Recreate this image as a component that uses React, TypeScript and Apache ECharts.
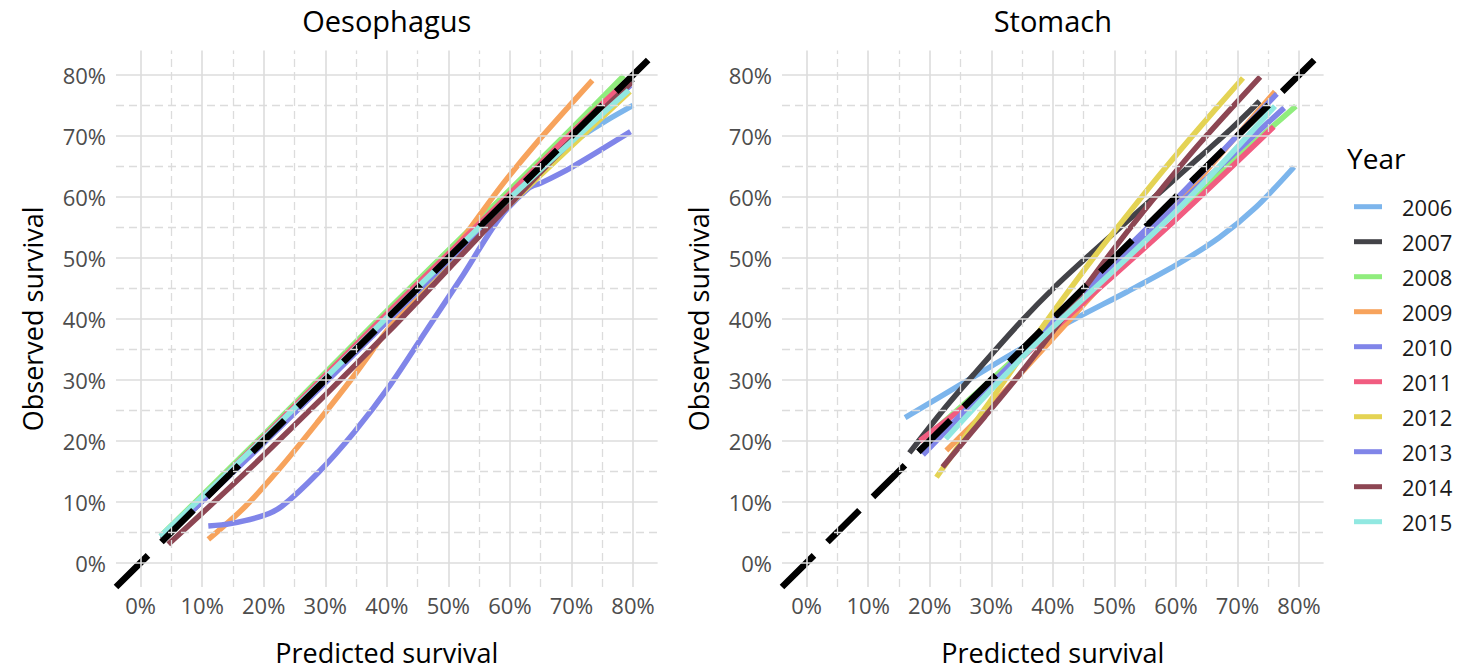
import React, { useEffect, useRef } from "react";
import * as echarts from "echarts";

const FONT = "Open Sans";

const years = ["2006", "2007", "2008", "2009", "2010", "2011", "2012", "2013", "2014", "2015"];
const colors = ["#7cb5ec", "#434348", "#90ed7d", "#f7a35c", "#8085e9", "#f15c80", "#e4d354", "#8085e8", "#8d4653", "#91e8e1"];
const panelTitles = ["Oesophagus", "Stomach"];
const tickValues = [0, 10, 20, 30, 40, 50, 60, 70, 80];
const minorValues = [5, 15, 25, 35, 45, 55, 65, 75];
const axisMin = -4;
const axisMax = 84;
const refLine = [[-4, -4], [84, 84]];

// Oesophagus: [predicted %, observed %]
const oes2006 = [[3.5, 4.0], [20, 20.2], [40, 40], [60, 60], [65, 64.6], [70, 68.8], [75, 72.1], [80, 75]];
const oes2007 = [[3.5, 3.8], [20, 19.8], [40, 39.7], [60, 59.6], [80, 79.3]];
const oes2008 = [[3.3, 4.4], [20, 21], [40, 41.3], [55, 56.2], [70, 71.2], [78.5, 79.9]];
const oes2009 = [[11, 3.8], [17, 9.2], [22.9, 15.8], [28.8, 23.1], [34.7, 30.7], [40.6, 38.8], [46.5, 45.7], [52.4, 53.3], [58.3, 61.4], [64.2, 68.7], [73.4, 79.1]];
const oes2010 = [[11, 6.0], [14.6, 6.4], [19.9, 7.7], [22.9, 9.2], [28.8, 14.7], [34.7, 21.4], [40.6, 29.2], [46.5, 38.2], [52.4, 47.2], [58.3, 56.5], [63, 61.4], [65.1, 62.3], [70.1, 64.9], [79.6, 70.7]];
const oes2011 = [[3.5, 4.2], [20, 20.6], [40, 40.8], [55, 55.6], [70, 70.5], [79, 79]];
const oes2012 = [[3.5, 4.0], [20, 20.2], [40, 39.6], [55, 54], [65, 63.6], [79.5, 77.3]];
const oes2013 = [[3.5, 3.9], [20, 19.6], [40, 39.5], [60, 59.5], [79.6, 78.3]];
const oes2014 = [[4.5, 3.0], [20, 17.6], [40, 37.6], [55, 53.5], [70, 69.3], [79.8, 78.8]];
const oes2015 = [[3.2, 4.3], [20, 20.4], [40, 40.2], [60, 59.8], [79.3, 77.5]];

// Stomach: [predicted %, observed %]
const sto2006 = [[16, 23.8], [26, 29.8], [35, 35.2], [44, 40.2], [52, 44.4], [60, 48.8], [67, 53.3], [73, 58.3], [79.2, 64.9]];
const sto2007 = [[16.7, 18], [22, 24.8], [27.1, 30.8], [34.7, 39.4], [40.5, 45.4], [46.3, 50.8], [52.1, 56], [57.9, 61.2], [63.7, 66.4], [68.6, 70.8], [73.6, 75.7]];
const sto2008 = [[19.5, 20.6], [30, 30], [45, 43.8], [60, 57.6], [79.5, 74.9]];
const sto2009 = [[22.7, 18.4], [30, 25.8], [40, 36.8], [50, 47.8], [60, 58.6], [76.1, 77.3]];
const sto2010 = [[18.9, 17.7], [30, 29.3], [45, 44.6], [60, 59.6], [76.4, 76.9]];
const sto2011 = [[18.4, 20], [30, 29.2], [45, 42.7], [60, 56.3], [75.9, 71.5]];
const sto2012 = [[21.1, 14], [29, 25.3], [38.2, 38.5], [46.3, 49.6], [52.4, 57.4], [58, 64.4], [63.7, 71.2], [70.9, 79.5]];
const sto2013 = [[19.5, 18.6], [30, 29.2], [45, 43.8], [60, 58.3], [77.6, 74.6]];
const sto2014 = [[22.1, 15.7], [28.9, 23.9], [34.7, 31], [40.5, 38.6], [46.3, 46.6], [52.1, 54.3], [57.9, 61.6], [63.7, 68.6], [73.7, 79.7]];
const sto2015 = [[22.6, 20.3], [32, 30.5], [40, 38.6], [60, 57.6], [76.1, 74.9]];

const panelData = [
  [oes2006, oes2007, oes2008, oes2009, oes2010, oes2011, oes2012, oes2013, oes2014, oes2015],
  [sto2006, sto2007, sto2008, sto2009, sto2010, sto2011, sto2012, sto2013, sto2014, sto2015],
];

const gridLefts = [116, 782];
const gridTop = 50.6;
const gridW = 541.6;
const gridH = 542.4;

export default function App() {
  const ref = useRef<HTMLDivElement>(null);
  useEffect(() => {
    if (!ref.current) return;
    const chart = echarts.init(ref.current, undefined, { renderer: "svg" });
    const major = { color: "#dcdcdc", width: 1.6, type: "solid" as const };
    const minor = { color: "#dcdcdc", width: 1.3, type: [8, 5] as any };

    const series: any[] = [];
    [0, 1].forEach((i) => {
      series.push({
        type: "line",
        name: "grid" + i,
        xAxisIndex: i,
        yAxisIndex: i,
        data: [[0, 0]],
        showSymbol: false,
        silent: true,
        lineStyle: { opacity: 0 },
        z: 1,
        markLine: {
          silent: true,
          symbol: ["none", "none"],
          label: { show: false },
          emphasis: { disabled: true },
          data: [
            ...minorValues.map((v) => ({ xAxis: v, lineStyle: minor })),
            ...minorValues.map((v) => ({ yAxis: v, lineStyle: minor })),
            ...tickValues.map((v) => ({ xAxis: v, lineStyle: major })),
            ...tickValues.map((v) => ({ yAxis: v, lineStyle: major })),
          ],
        },
      });
      panelData[i].forEach((d, j) => {
        series.push({
          type: "line",
          name: years[j],
          xAxisIndex: i,
          yAxisIndex: i,
          data: d,
          showSymbol: false,
          smooth: 0.3,
          silent: true,
          emphasis: { disabled: true },
          itemStyle: { color: colors[j] },
          lineStyle: { color: colors[j], width: 5.5, cap: "butt", join: "round" },
          z: 2,
        });
      });
      series.push({
        type: "line",
        name: "reference",
        xAxisIndex: i,
        yAxisIndex: i,
        data: refLine,
        showSymbol: false,
        silent: true,
        emphasis: { disabled: true },
        lineStyle: { color: "#000", width: 6.5, type: [45, 19], cap: "butt" },
        z: 3,
      });
    });

    const labelStyle = { color: "#4d4d4d", fontSize: 22, fontFamily: FONT };
    const nameStyle = { color: "#000", fontSize: 27, fontFamily: FONT };

    chart.setOption({
      animation: false,
      backgroundColor: "#fff",
      grid: gridLefts.map((l) => ({ left: l, top: gridTop, width: gridW, height: gridH, containLabel: false })),
      xAxis: [0, 1].map((i) => ({
        type: "value",
        gridIndex: i,
        min: axisMin,
        max: axisMax,
        axisLine: { show: false },
        axisTick: { show: false },
        splitLine: { show: false },
        axisLabel: { ...labelStyle, customValues: tickValues, formatter: (v: number) => `${v}%`, margin: 7 },
        name: "Predicted survival",
        nameLocation: "middle",
        nameGap: 52,
        nameTextStyle: nameStyle,
      })),
      yAxis: [0, 1].map((i) => ({
        type: "value",
        gridIndex: i,
        min: axisMin,
        max: axisMax,
        axisLine: { show: false },
        axisTick: { show: false },
        splitLine: { show: false },
        axisLabel: { ...labelStyle, customValues: tickValues, formatter: (v: number) => `${v}%`, margin: 10 },
        name: "Observed survival",
        nameLocation: "middle",
        nameGap: 70,
        nameTextStyle: nameStyle,
      })),
      legend: {
        orient: "vertical",
        left: 1349,
        top: 190.7,
        data: years,
        icon: "rect",
        itemWidth: 28,
        itemHeight: 5,
        itemGap: 13,
        selectedMode: false,
        textStyle: { color: "#1a1a1a", fontSize: 22, fontFamily: FONT, lineHeight: 22, padding: [0, 0, 0, 15] },
      },
      graphic: [
        ...panelTitles.map((t, i) => ({
          type: "text",
          x: gridLefts[i] + gridW / 2,
          y: 20,
          style: { text: t, fontSize: 29, fontFamily: FONT, fill: "#000", align: "center", verticalAlign: "middle" },
        })),
        {
          type: "text",
          x: 1347,
          y: 158,
          style: { text: "Year", fontSize: 28, fontFamily: FONT, fill: "#000", align: "left", verticalAlign: "middle" },
        },
      ],
      series,
    });
    return () => chart.dispose();
  }, []);
  return <div ref={ref} style={{ position: "fixed", left: 0, top: 0, width: 1463, height: 671 }} />;
}
